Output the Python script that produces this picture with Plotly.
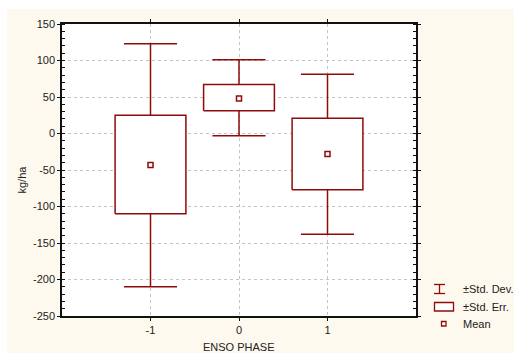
import plotly.graph_objects as go

# ---- data ----
categories = [-1, 0, 1]
means = [-43, 48, -28]
se_low = [-110, 31, -77]
se_high = [25, 67, 21]
sd_low = [-210, -3, -138]
sd_high = [123, 101, 81]
y_ticks = [-250, -200, -150, -100, -50, 0, 50, 100, 150]
y_tick_labels = ["-250", "-200", "-150", "-100", "-50", "0", "50", "100", "150"]
x_tick_labels = ["-1", "0", "1"]
legend_labels = ["\u00b1Std. Dev.", "\u00b1Std. Err.", "Mean"]

RED = "#8E0B0B"
CREAM = "#FEF9EE"
FONT = "Liberation Sans"
W, H = 514, 353
L, R, T, B = 62, 98, 24, 37
BOX_HALF = 0.4
CAP_HALF = 0.3

fig = go.Figure()

# whiskers (SD)
wx, wy = [], []
for c, lo, hi, slo, shi in zip(categories, se_low, se_high, sd_low, sd_high):
    wx += [c, c, None, c, c, None, c - CAP_HALF, c + CAP_HALF, None, c - CAP_HALF, c + CAP_HALF, None]
    wy += [shi, hi, None, lo, slo, None, shi, shi, None, slo, slo, None]
fig.add_trace(go.Scatter(x=wx, y=wy, mode="lines", line=dict(color=RED, width=1.5),
                         hoverinfo="skip", showlegend=False))

# SE boxes
for c, lo, hi in zip(categories, se_low, se_high):
    fig.add_trace(go.Scatter(
        x=[c - BOX_HALF, c + BOX_HALF, c + BOX_HALF, c - BOX_HALF, c - BOX_HALF],
        y=[lo, lo, hi, hi, lo], mode="lines", fill="toself", fillcolor="white",
        line=dict(color=RED, width=1.5), hoverinfo="skip", showlegend=False))

# means
fig.add_trace(go.Scatter(x=categories, y=means, mode="markers",
                         marker=dict(symbol="square-open", size=5, color=RED,
                                     line=dict(width=1.5, color=RED)),
                         showlegend=False))

pw = W - L - R
ph = H - T - B


def px(xp):
    return (xp - L) / pw


def py(yp):
    return (H - B - yp) / ph


shapes = []
# white strips at top/left of the cream page
shapes.append(dict(type="rect", xref="paper", yref="paper",
                   x0=px(-5), x1=px(W + 5), y0=py(9), y1=py(-5),
                   fillcolor="white", line=dict(width=0)))
shapes.append(dict(type="rect", xref="paper", yref="paper",
                   x0=px(-5), x1=px(7), y0=py(H + 5), y1=py(-5),
                   fillcolor="white", line=dict(width=0)))
# legend icons
shapes.append(dict(type="line", xref="paper", yref="paper", x0=px(434), x1=px(445), y0=py(284.5), y1=py(284.5), line=dict(color=RED, width=1.3)))
shapes.append(dict(type="line", xref="paper", yref="paper", x0=px(434), x1=px(445), y0=py(293.5), y1=py(293.5), line=dict(color=RED, width=1.3)))
shapes.append(dict(type="line", xref="paper", yref="paper", x0=px(439.5), x1=px(439.5), y0=py(284.5), y1=py(293.5), line=dict(color=RED, width=1.3)))
shapes.append(dict(type="rect", xref="paper", yref="paper", x0=px(434.5), x1=px(453.5), y0=py(302.5), y1=py(311), line=dict(color=RED, width=1.3), fillcolor="white"))
shapes.append(dict(type="rect", xref="paper", yref="paper", x0=px(441.5), x1=px(446), y0=py(321.5), y1=py(326), line=dict(color=RED, width=1.3), fillcolor="white"))

annotations = []
for lab, yp in zip(legend_labels, [289, 306.5, 323.5]):
    annotations.append(dict(text=lab, xref="paper", yref="paper", x=px(461), y=py(yp),
                            xanchor="left", yanchor="middle", showarrow=False,
                            font=dict(family=FONT, size=11, color="#222")))
annotations.append(dict(text="kg/ha", xref="paper", yref="paper", x=px(21.5), y=py(180),
                        textangle=-90, xanchor="center", yanchor="middle", showarrow=False,
                        font=dict(family=FONT, size=11, color="#222")))
annotations.append(dict(text="ENSO PHASE", xref="paper", yref="paper", x=px(239), y=py(347),
                        xanchor="center", yanchor="middle", showarrow=False,
                        font=dict(family=FONT, size=11, color="#222")))

fig.update_layout(
    width=W, height=H,
    margin=dict(l=L, r=R, t=T, b=B, pad=0),
    paper_bgcolor=CREAM, plot_bgcolor="white",
    font=dict(family=FONT, size=11, color="#222"),
    shapes=shapes, annotations=annotations, showlegend=False,
    xaxis=dict(range=[-2, 2], tickvals=categories, ticktext=x_tick_labels,
               showgrid=True, gridcolor="#C4C4C4", griddash="dot", gridwidth=1,
               showline=True, linecolor="#111", linewidth=1.5, mirror="ticks",
               ticks="outside", ticklen=3, tickcolor="#111", zeroline=False,
               fixedrange=True),
    yaxis=dict(range=[-250, 150], tickvals=y_ticks, ticktext=y_tick_labels,
               showgrid=True, gridcolor="#C4C4C4", griddash="dot", gridwidth=1,
               showline=True, linecolor="#111", linewidth=1.5, mirror="allticks",
               ticks="outside", ticklen=3, tickcolor="#111", zeroline=False,
               minor=dict(dtick=10, ticks="inside", ticklen=3, tickcolor="#111", showgrid=False),
               fixedrange=True),
)

fig.write_html("out.html")
